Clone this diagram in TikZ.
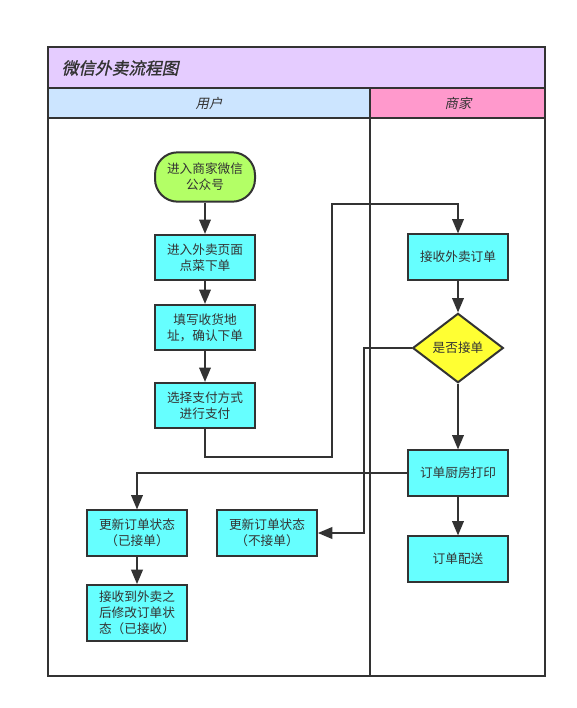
\documentclass[tikz,border=0pt]{standalone}
\usepackage{fontspec}
\usepackage{tikz}
\usetikzlibrary{shapes.geometric, arrows}
\newfontfamily\cjk{Noto Sans CJK SC}
\newfontfamily\cjkit[FakeSlant=0.22]{Noto Sans CJK SC}
\newfontfamily\cjktitle[FakeSlant=0.22,FakeBold=1.2]{Noto Sans CJK SC}
\definecolor{linegray}{HTML}{333333}
\definecolor{titlebg}{HTML}{E5CCFF}
\definecolor{userbg}{HTML}{CCE5FF}
\definecolor{shopbg}{HTML}{FF99CC}
\definecolor{boxcyan}{HTML}{66FFFF}
\definecolor{startgreen}{HTML}{B3FF66}
\definecolor{checkyellow}{HTML}{FFFF33}
\tikzstyle{arrow} = [line width=1.5pt,draw=linegray,->,>=triangle 45]
\tikzstyle{process} = [rectangle, minimum width=75pt, minimum height=34pt, align=center, draw=linegray, line width=1.5pt, fill=boxcyan, text=linegray, font=\cjk\fontsize{9.5pt}{12pt}\selectfont]
\tikzstyle{startstop} = [rectangle, rounded corners=17pt, minimum width=75pt, minimum height=37pt, align=center, draw=linegray, line width=1.5pt, fill=startgreen, text=linegray, font=\cjk\fontsize{9.5pt}{12pt}\selectfont]
\tikzstyle{decision} = [diamond, aspect=1.3, inner sep=2pt, minimum width=68pt, minimum height=52pt, align=center, draw=linegray, line width=1.5pt, fill=checkyellow, text=linegray, font=\cjk\fontsize{9.5pt}{12pt}\selectfont]

\begin{document}
\begin{tikzpicture}[x=0.75pt,y=-0.75pt]
	\useasboundingbox (0,0) rectangle (577,708);
	% lanes
	\fill [fill=titlebg] (48,47) rectangle (545,88);
	\fill [fill=userbg] (48,88) rectangle (370,118);
	\fill [fill=shopbg] (370,88) rectangle (545,118);
	\draw [linegray, line width=1.5pt] (48,47) rectangle (545,676);
	\draw [linegray, line width=1.5pt] (48,88) -- (545,88);
	\draw [linegray, line width=1.5pt] (48,118) -- (545,118);
	\draw [linegray, line width=1.5pt] (370,88) -- (370,676);
	\node [anchor=west, text=linegray, font=\cjktitle\fontsize{12.5pt}{15pt}\selectfont] (title) at (57,68) {微信外卖流程图};
	\node [text=linegray, font=\cjkit\fontsize{10pt}{12pt}\selectfont] (user) at (209,103) {用户};
	\node [text=linegray, font=\cjkit\fontsize{10pt}{12pt}\selectfont] (shop) at (458,103) {商家};
	% user lane
	\node [startstop] (start) at (205,177) {进入商家微信\\公众号};
	\node [process] (order) at (205,257.5) {进入外卖页面\\点菜下单};
	\node [process] (address) at (205,327.5) {填写收货地\\址，确认下单};
	\node [process] (pay) at (205,405.5) {选择支付方式\\进行支付};
	\node [process] (accepted) at (137,533) {更新订单状态\\（已接单）};
	\node [process] (refused) at (267,533) {更新订单状态\\（不接单）};
	\node [process, minimum height=42pt] (received) at (137,613) {接收到外卖之\\后修改订单状\\态（已接收）};
	% shop lane
	\node [process] (recv) at (458,257) {接收外卖订单};
	\node [decision] (check) at (458,348) {是否接单};
	\node [process] (print) at (458,473) {订单厨房打印};
	\node [process] (deliver) at (458,559) {订单配送};
	% connectors
	\draw [arrow] (start) -- (order);
	\draw [arrow] (order) -- (address);
	\draw [arrow] (address) -- (pay);
	\draw [arrow] (pay.south) |- (332,457) -- (332,204) -| (recv.north);
	\draw [arrow] (recv) -- (check);
	\draw [arrow] (check.west) -| (364,533) -- (refused.east);
	\draw [arrow] (check) -- (print);
	\draw [arrow] (print.west) -| (accepted.north);
	\draw [arrow] (print) -- (deliver);
	\draw [arrow] (accepted) -- (received);
\end{tikzpicture}
\end{document}
